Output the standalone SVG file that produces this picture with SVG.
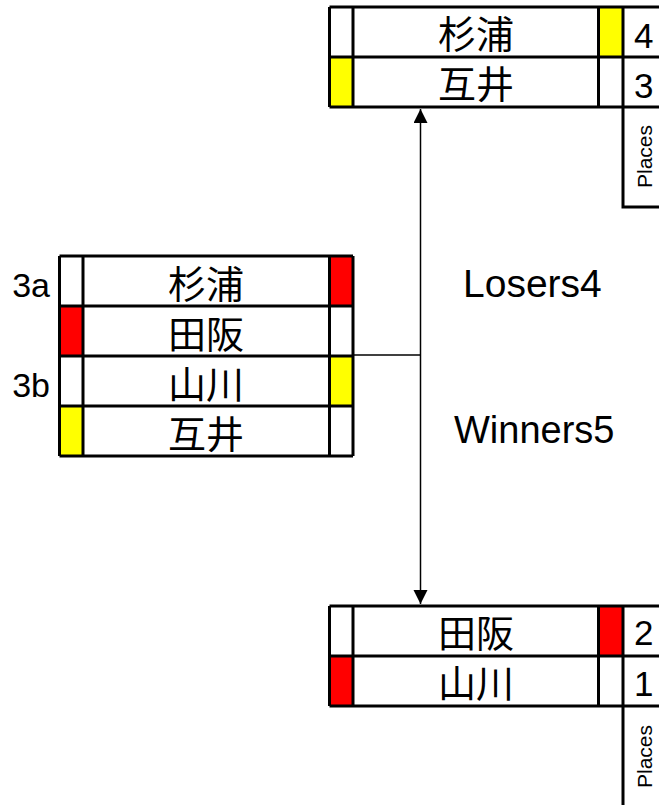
<svg xmlns="http://www.w3.org/2000/svg" width="659" height="805" viewBox="0 0 659 805">
<style>
.ln{stroke:#000;stroke-width:3;fill:none}
.c{stroke:#000;stroke-width:1.5;fill:none}
.y{fill:#FFFF00}
.r{fill:#FF0000}
.nm{font-family:"Noto Sans CJK JP","Noto Sans CJK SC",sans-serif;font-size:38px;text-anchor:middle;fill:#000}
.lb{font-family:"Liberation Sans",Arial,sans-serif;fill:#000}
</style>
<defs>
<marker id="ah" viewBox="0 0 14 16" refX="14" refY="7" markerWidth="14" markerHeight="16" markerUnits="userSpaceOnUse" orient="auto">
<path d="M0,0 L14,7 L0,14 Z" fill="#000"/>
</marker>
</defs>
<rect width="659" height="805" fill="#fff"/>

<g id="connectors">
<line class="c" x1="353" y1="355" x2="420.5" y2="355"/>
<line class="c" x1="420.5" y1="355" x2="420.5" y2="109" marker-end="url(#ah)"/>
<line class="c" x1="420.5" y1="355" x2="420.5" y2="604" marker-end="url(#ah)"/>
<text class="lb" x="463" y="297" font-size="39">Losers4</text>
<text class="lb" x="454" y="443" font-size="38">Winners5</text>
</g>

<g id="node-top">
<rect class="y" x="598.5" y="7" width="24.5" height="50"/>
<rect class="y" x="329.5" y="57" width="23.5" height="50"/>
<path class="ln" d="M329.5,7 H659 M329.5,57 H659 M329.5,107 H659 M329.5,7 V107 M353,7 V107 M598.5,7 V107 M623,7 V207 H659"/>
<text class="nm" x="476" y="47.5">杉浦</text>
<text class="nm" x="476" y="97.5">互井</text>
<text class="lb" x="634" y="48" font-size="35">4</text>
<text class="lb" x="634" y="97.5" font-size="35">3</text>
<text class="lb" font-size="21" transform="translate(652,188) rotate(-90)">Places</text>
</g>

<g id="node-left">
<rect class="r" x="329.5" y="256" width="23.5" height="50"/>
<rect class="r" x="59.5" y="306" width="23.5" height="50"/>
<rect class="y" x="329.5" y="356" width="23.5" height="50"/>
<rect class="y" x="59.5" y="406" width="23.5" height="50"/>
<path class="ln" d="M59.5,256 H353 M59.5,306 H353 M59.5,356 H353 M59.5,406 H353 M59.5,456 H353 M59.5,256 V456 M83,256 V456 M329.5,256 V456 M353,256 V456"/>
<text class="nm" x="206" y="297.5">杉浦</text>
<text class="nm" x="206" y="347.5">田阪</text>
<text class="nm" x="206" y="397.5">山川</text>
<text class="nm" x="206" y="447.5">互井</text>
<text class="lb" x="50" y="297" font-size="34" text-anchor="end">3a</text>
<text class="lb" x="50" y="397" font-size="34" text-anchor="end">3b</text>
</g>

<g id="node-bottom">
<rect class="r" x="598.5" y="606" width="24.5" height="50"/>
<rect class="r" x="329.5" y="656" width="23.5" height="50"/>
<path class="ln" d="M329.5,606 H659 M329.5,656 H659 M329.5,706 H659 M329.5,606 V706 M353,606 V706 M598.5,606 V706 M623,606 V805"/>
<text class="nm" x="476" y="646.5">田阪</text>
<text class="nm" x="476" y="696.5">山川</text>
<text class="lb" x="634" y="645" font-size="35">2</text>
<text class="lb" x="634" y="696" font-size="35">1</text>
<text class="lb" font-size="21" transform="translate(652,788) rotate(-90)">Places</text>
</g>
</svg>
